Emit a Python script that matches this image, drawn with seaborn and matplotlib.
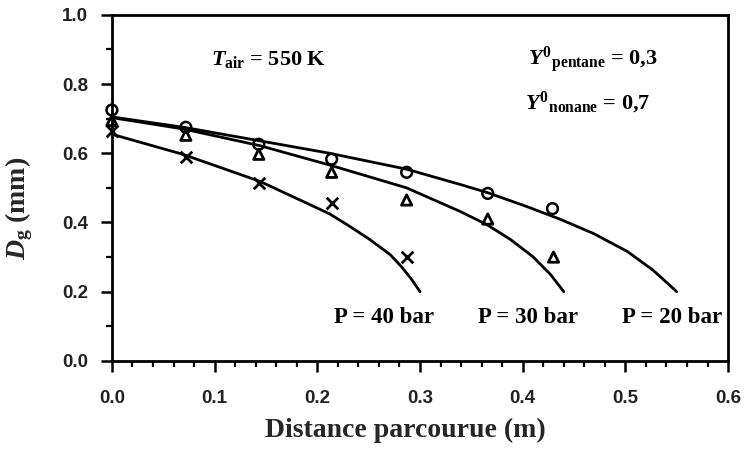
import matplotlib
matplotlib.use("Agg")
import matplotlib.pyplot as plt
import seaborn as sns
import pandas as pd
from matplotlib.ticker import MultipleLocator, FormatStrFormatter

# ---- data ----
curve20_x = [0, 0.07, 0.144, 0.212, 0.287, 0.339, 0.366, 0.404, 0.436, 0.469, 0.502, 0.527, 0.55]
curve20_y = [0.705, 0.675, 0.636, 0.600, 0.554, 0.51, 0.486, 0.446, 0.41, 0.368, 0.316, 0.262, 0.20]

curve30_x = [0, 0.07, 0.144, 0.212, 0.287, 0.339, 0.365, 0.388, 0.41, 0.427, 0.44]
curve30_y = [0.703, 0.670, 0.622, 0.566, 0.50, 0.432, 0.394, 0.351, 0.301, 0.250, 0.20]

curve40_x = [0, 0.069, 0.144, 0.212, 0.232, 0.251, 0.271, 0.282, 0.292, 0.30]
curve40_y = [0.655, 0.597, 0.519, 0.425, 0.388, 0.351, 0.307, 0.272, 0.235, 0.20]

pts20_x = [0, 0.072, 0.143, 0.214, 0.287, 0.366, 0.429]
pts20_y = [0.725, 0.675, 0.626, 0.583, 0.545, 0.484, 0.44]

pts30_x = [0, 0.072, 0.143, 0.214, 0.287, 0.366, 0.43]
pts30_y = [0.695, 0.652, 0.597, 0.545, 0.465, 0.41, 0.30]

pts40_x = [0, 0.072, 0.143, 0.214, 0.287]
pts40_y = [0.665, 0.59, 0.515, 0.455, 0.30]

curve_labels = ["P = 40 bar", "P = 30 bar", "P = 20 bar"]

sns.set_style("ticks")
plt.rcParams["mathtext.fontset"] = "custom"
plt.rcParams["mathtext.rm"] = "Liberation Serif:bold"
plt.rcParams["mathtext.bf"] = "Liberation Serif:bold"
plt.rcParams["mathtext.it"] = "Liberation Serif:italic:bold"

fig = plt.figure(figsize=(7.46, 4.5), dpi=100)
ax = fig.add_axes([0.150, 0.198, 0.826, 0.769])

for cx, cy in [(curve20_x, curve20_y), (curve30_x, curve30_y), (curve40_x, curve40_y)]:
    df = pd.DataFrame({"x": cx, "y": cy})
    sns.lineplot(data=df, x="x", y="y", ax=ax, color="black", linewidth=2.0,
                 sort=False, estimator=None)

sns.scatterplot(x=pts20_x, y=pts20_y, ax=ax, marker="o", s=60,
                facecolor="none", edgecolor="black", linewidth=1.8, zorder=5)
sns.scatterplot(x=pts30_x, y=pts30_y, ax=ax, marker="^", s=55,
                facecolor="none", edgecolor="black", linewidth=2.0, zorder=5)
sns.scatterplot(x=pts40_x, y=pts40_y, ax=ax, marker="x", s=70,
                color="black", linewidth=2.0, zorder=5)
for coll in ax.collections:
    coll.set_clip_on(False)

ax.set_xlim(0, 0.6)
ax.set_ylim(0, 1.0)
ax.xaxis.set_major_locator(MultipleLocator(0.1))
ax.xaxis.set_minor_locator(MultipleLocator(0.02))
ax.yaxis.set_major_locator(MultipleLocator(0.2))
ax.yaxis.set_minor_locator(MultipleLocator(0.1))
ax.tick_params(axis="both", which="major", direction="out", length=8, width=1.8,
               labelsize=13.5, color="black")
ax.tick_params(axis="both", which="minor", direction="out", length=4.5, width=1.6,
               color="black")
ax.tick_params(axis="x", which="major", pad=13)
ax.tick_params(axis="y", which="major", pad=9)
ax.xaxis.set_major_formatter(FormatStrFormatter("%.1f"))
ax.yaxis.set_major_formatter(FormatStrFormatter("%.1f"))
for lab in ax.get_xticklabels() + ax.get_yticklabels():
    lab.set_fontfamily("Liberation Sans")
    lab.set_fontweight("bold")
    lab.set_color("#222222")

for sp in ax.spines.values():
    sp.set_visible(True)
    sp.set_linewidth(2.0)
    sp.set_color("black")

ax.set_xlabel("Distance parcourue (m)", fontfamily="Liberation Serif",
              fontweight="bold", fontsize=20)
ax.set_ylabel(r"$\mathit{D}_{\mathrm{g}}$ (mm)", fontfamily="Liberation Serif",
              fontweight="bold", fontsize=20)
ax.xaxis.set_label_coords(0.477, -0.165)
ax.yaxis.set_label_coords(-0.125, 0.44)

serif = dict(fontfamily="Liberation Serif", fontweight="bold", color="black")
ax.text(0.152, 0.87, r"$\mathit{T}_{\mathrm{air}}$ = 550 K", fontsize=16,
        ha="center", va="center", **serif)
ax.text(0.468, 0.87, r"$\mathit{Y}^{0}{}_{\mathrm{pentane}}$ = 0,3", fontsize=16,
        ha="center", va="center", **serif)
ax.text(0.463, 0.745, r"$\mathit{Y}^{0}{}_{\mathrm{nonane}}$ = 0,7", fontsize=16,
        ha="center", va="center", **serif)

label_x = [0.265, 0.405, 0.545]
for lx, txt in zip(label_x, curve_labels):
    ax.text(lx, 0.125, txt, fontsize=16.5, ha="center", va="center", **serif)

fig.savefig("out.png", dpi=100)
